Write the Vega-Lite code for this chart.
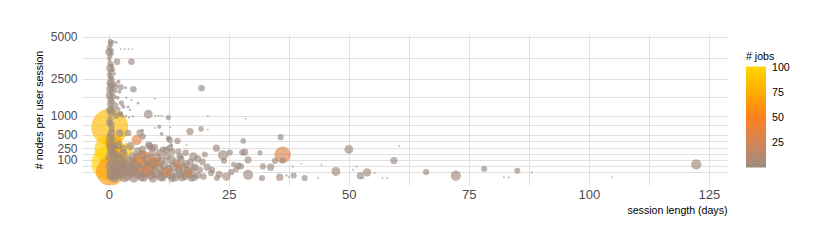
{
  "$schema": "https://vega.github.io/schema/vega-lite/v6.json",
  "width": 645,
  "height": 151,
  "autosize": "none",
  "padding": {"left": 82, "top": 34, "right": 103, "bottom": 64},
  "background": "white",
  "config": {"view": {"stroke": null}, "font": "Liberation Sans"},
  "data": {"values": [
    {"days":0.2,"nodes":680,"jobs":85,"load":78},
    {"days":0.0,"nodes":70,"jobs":100,"load":70},
    {"days":0.0,"nodes":230,"jobs":95,"load":47},
    {"days":0.3,"nodes":18,"jobs":65,"load":47},
    {"days":7.1,"nodes":60,"jobs":50,"load":41},
    {"days":1.0,"nodes":330,"jobs":72,"load":18},
    {"days":2.0,"nodes":130,"jobs":78,"load":22},
    {"days":3.7,"nodes":230,"jobs":90,"load":9},
    {"days":5.8,"nodes":394,"jobs":35,"load":6},
    {"days":36.2,"nodes":155,"jobs":30,"load":15.5},
    {"days":9.2,"nodes":72,"jobs":55,"load":6},
    {"days":4,"nodes":20,"jobs":45,"load":8},
    {"days":6,"nodes":90,"jobs":40,"load":5},
    {"days":0.3,"nodes":4700,"jobs":1,"load":1.5},
    {"days":0.8,"nodes":4650,"jobs":1,"load":0.8},
    {"days":1.5,"nodes":4620,"jobs":1,"load":0.5},
    {"days":0.2,"nodes":4550,"jobs":1,"load":1},
    {"days":0.5,"nodes":4450,"jobs":1,"load":1},
    {"days":0.1,"nodes":4300,"jobs":1,"load":1.5},
    {"days":0.4,"nodes":4100,"jobs":2,"load":2},
    {"days":0.0,"nodes":4000,"jobs":1,"load":3},
    {"days":2.5,"nodes":4180,"jobs":1,"load":0.2},
    {"days":3.3,"nodes":4180,"jobs":1,"load":0.2},
    {"days":4.1,"nodes":4180,"jobs":1,"load":0.2},
    {"days":4.9,"nodes":4180,"jobs":1,"load":0.2},
    {"days":0.6,"nodes":3900,"jobs":1,"load":1},
    {"days":0.2,"nodes":3750,"jobs":1,"load":1.5},
    {"days":1.7,"nodes":3410,"jobs":1,"load":2.5},
    {"days":4.7,"nodes":3410,"jobs":1,"load":2.5},
    {"days":0.1,"nodes":3550,"jobs":1,"load":1},
    {"days":0.3,"nodes":3300,"jobs":1,"load":2},
    {"days":0.6,"nodes":3150,"jobs":1,"load":1.5},
    {"days":0.2,"nodes":3050,"jobs":1,"load":3},
    {"days":0.9,"nodes":2950,"jobs":1,"load":1},
    {"days":0.4,"nodes":2850,"jobs":1,"load":2},
    {"days":1.2,"nodes":2750,"jobs":1,"load":0.5},
    {"days":0.1,"nodes":2700,"jobs":1,"load":1.5},
    {"days":0.5,"nodes":2600,"jobs":1,"load":2},
    {"days":0.3,"nodes":2500,"jobs":1,"load":1.5},
    {"days":0.8,"nodes":2450,"jobs":1,"load":1},
    {"days":2.0,"nodes":2350,"jobs":1,"load":1},
    {"days":0.2,"nodes":2300,"jobs":1,"load":2.5},
    {"days":1.0,"nodes":2250,"jobs":1,"load":2},
    {"days":0.4,"nodes":2200,"jobs":1,"load":3},
    {"days":1.5,"nodes":2150,"jobs":1,"load":1.5},
    {"days":2.5,"nodes":2100,"jobs":1,"load":2},
    {"days":3.5,"nodes":2080,"jobs":1,"load":0.5},
    {"days":0.6,"nodes":2050,"jobs":1,"load":2},
    {"days":5.1,"nodes":2010,"jobs":1,"load":2.5},
    {"days":0.2,"nodes":2000,"jobs":1,"load":3},
    {"days":1.3,"nodes":1950,"jobs":1,"load":1.5},
    {"days":2.2,"nodes":1900,"jobs":1,"load":1},
    {"days":0.5,"nodes":1850,"jobs":1,"load":2},
    {"days":0.1,"nodes":1750,"jobs":1,"load":3},
    {"days":0.9,"nodes":1700,"jobs":1,"load":2},
    {"days":1.8,"nodes":1650,"jobs":1,"load":1},
    {"days":3.6,"nodes":1650,"jobs":1,"load":0.3},
    {"days":4.7,"nodes":1560,"jobs":1,"load":0.3},
    {"days":9.6,"nodes":1617,"jobs":1,"load":0.2},
    {"days":0.3,"nodes":1600,"jobs":1,"load":2.5},
    {"days":0.7,"nodes":1500,"jobs":1,"load":2},
    {"days":2.6,"nodes":1450,"jobs":1,"load":1.5},
    {"days":6.1,"nodes":1440,"jobs":1,"load":0.4},
    {"days":0.2,"nodes":1420,"jobs":1,"load":2},
    {"days":1.2,"nodes":1350,"jobs":1,"load":3},
    {"days":3.0,"nodes":1314,"jobs":1,"load":1},
    {"days":4.0,"nodes":1300,"jobs":1,"load":0.5},
    {"days":0.5,"nodes":1280,"jobs":1,"load":2},
    {"days":2.0,"nodes":1230,"jobs":1,"load":1},
    {"days":4.4,"nodes":1200,"jobs":1,"load":0.3},
    {"days":0.1,"nodes":1200,"jobs":1,"load":2.5},
    {"days":1.0,"nodes":1150,"jobs":1,"load":2},
    {"days":0.4,"nodes":1100,"jobs":1,"load":3},
    {"days":2.3,"nodes":1089,"jobs":1,"load":1.5},
    {"days":2.5,"nodes":1050,"jobs":1,"load":1.5},
    {"days":1.5,"nodes":1000,"jobs":1,"load":2},
    {"days":3.0,"nodes":980,"jobs":1,"load":0.3},
    {"days":3.6,"nodes":1000,"jobs":1,"load":0.3},
    {"days":4.2,"nodes":960,"jobs":1,"load":0.3},
    {"days":5.0,"nodes":990,"jobs":1,"load":0.3},
    {"days":8.2,"nodes":1057,"jobs":1,"load":4.5},
    {"days":12.4,"nodes":951,"jobs":1,"load":1.5},
    {"days":9.6,"nodes":1010,"jobs":1,"load":0.2},
    {"days":10.3,"nodes":1010,"jobs":1,"load":0.2},
    {"days":11.0,"nodes":1010,"jobs":1,"load":0.2},
    {"days":20.6,"nodes":1003,"jobs":1,"load":0.2},
    {"days":28.5,"nodes":920,"jobs":1,"load":0.2},
    {"days":19.3,"nodes":2054,"jobs":1,"load":2.5},
    {"days":0.3,"nodes":900,"jobs":2,"load":2},
    {"days":0.1,"nodes":800,"jobs":2,"load":2.5},
    {"days":0.5,"nodes":741,"jobs":2,"load":2.7},
    {"days":0.6,"nodes":620,"jobs":2,"load":2},
    {"days":0.5,"nodes":536,"jobs":2,"load":3.3},
    {"days":2.3,"nodes":536,"jobs":2,"load":3.3},
    {"days":4.0,"nodes":540,"jobs":2,"load":2.5},
    {"days":6.5,"nodes":543,"jobs":2,"load":3},
    {"days":7.1,"nodes":461,"jobs":2,"load":2.2},
    {"days":0.2,"nodes":450,"jobs":2,"load":3},
    {"days":0.8,"nodes":400,"jobs":2,"load":2},
    {"days":0.3,"nodes":330,"jobs":3,"load":3.5},
    {"days":8.3,"nodes":302,"jobs":2,"load":3},
    {"days":8.5,"nodes":274,"jobs":2,"load":2.7},
    {"days":9.0,"nodes":250,"jobs":2,"load":2.5},
    {"days":1.2,"nodes":280,"jobs":3,"load":2.5},
    {"days":10.5,"nodes":690,"jobs":1,"load":1},
    {"days":11.0,"nodes":520,"jobs":1,"load":0.8},
    {"days":13.0,"nodes":300,"jobs":1,"load":0.8},
    {"days":7.0,"nodes":600,"jobs":1,"load":0.5},
    {"days":12.4,"nodes":428,"jobs":2,"load":1.5},
    {"days":11.3,"nodes":223,"jobs":2,"load":2.5},
    {"days":12.7,"nodes":248,"jobs":2,"load":2.5},
    {"days":10.6,"nodes":177,"jobs":3,"load":3.3},
    {"days":13.3,"nodes":198,"jobs":2,"load":2.2},
    {"days":14.8,"nodes":135,"jobs":2,"load":2.7},
    {"days":8.1,"nodes":57,"jobs":2,"load":2.2},
    {"days":0.5,"nodes":200,"jobs":3,"load":4},
    {"days":1.5,"nodes":160,"jobs":3,"load":3},
    {"days":0.2,"nodes":130,"jobs":4,"load":5},
    {"days":2.5,"nodes":100,"jobs":3,"load":4},
    {"days":0.8,"nodes":60,"jobs":4,"load":6},
    {"days":3.0,"nodes":40,"jobs":3,"load":5},
    {"days":1.5,"nodes":20,"jobs":4,"load":6},
    {"days":0.5,"nodes":5,"jobs":3,"load":6},
    {"days":1,"nodes":150,"jobs":3,"load":6},
    {"days":2,"nodes":110,"jobs":2,"load":5},
    {"days":3,"nodes":170,"jobs":4,"load":4},
    {"days":4,"nodes":90,"jobs":2,"load":6},
    {"days":5,"nodes":130,"jobs":3,"load":5},
    {"days":6,"nodes":200,"jobs":2,"load":4},
    {"days":7,"nodes":150,"jobs":5,"load":5},
    {"days":8,"nodes":110,"jobs":3,"load":6},
    {"days":9,"nodes":180,"jobs":2,"load":3},
    {"days":10,"nodes":120,"jobs":4,"load":5},
    {"days":11,"nodes":90,"jobs":2,"load":4},
    {"days":12,"nodes":140,"jobs":3,"load":4},
    {"days":13,"nodes":100,"jobs":2,"load":5},
    {"days":14,"nodes":70,"jobs":3,"load":4},
    {"days":15,"nodes":110,"jobs":2,"load":3},
    {"days":16,"nodes":60,"jobs":4,"load":4},
    {"days":17,"nodes":80,"jobs":2,"load":3},
    {"days":18,"nodes":40,"jobs":2,"load":3},
    {"days":19,"nodes":25,"jobs":1,"load":2},
    {"days":0.5,"nodes":45,"jobs":3,"load":8},
    {"days":1.5,"nodes":55,"jobs":6,"load":6},
    {"days":2.5,"nodes":35,"jobs":4,"load":7},
    {"days":3.5,"nodes":60,"jobs":3,"load":5},
    {"days":4.5,"nodes":40,"jobs":5,"load":6},
    {"days":5.5,"nodes":50,"jobs":2,"load":6},
    {"days":6.5,"nodes":30,"jobs":8,"load":5},
    {"days":7.5,"nodes":55,"jobs":4,"load":6},
    {"days":8.5,"nodes":40,"jobs":3,"load":5},
    {"days":9.5,"nodes":60,"jobs":2,"load":5},
    {"days":10.5,"nodes":35,"jobs":5,"load":6},
    {"days":11.5,"nodes":50,"jobs":3,"load":5},
    {"days":12.5,"nodes":30,"jobs":2,"load":4},
    {"days":13.5,"nodes":45,"jobs":4,"load":5},
    {"days":14.5,"nodes":25,"jobs":3,"load":4},
    {"days":15.5,"nodes":40,"jobs":2,"load":5},
    {"days":16.5,"nodes":20,"jobs":3,"load":4},
    {"days":17.5,"nodes":30,"jobs":6,"load":4},
    {"days":0.8,"nodes":12,"jobs":5,"load":8},
    {"days":1.8,"nodes":8,"jobs":3,"load":7},
    {"days":2.8,"nodes":15,"jobs":6,"load":6},
    {"days":3.8,"nodes":5,"jobs":4,"load":6},
    {"days":4.8,"nodes":18,"jobs":2,"load":7},
    {"days":5.8,"nodes":10,"jobs":7,"load":6},
    {"days":6.8,"nodes":4,"jobs":3,"load":6},
    {"days":7.8,"nodes":15,"jobs":5,"load":5},
    {"days":8.8,"nodes":6,"jobs":2,"load":5},
    {"days":9.8,"nodes":12,"jobs":4,"load":6},
    {"days":10.8,"nodes":3,"jobs":3,"load":5},
    {"days":11.8,"nodes":14,"jobs":2,"load":6},
    {"days":12.8,"nodes":7,"jobs":5,"load":5},
    {"days":13.8,"nodes":2,"jobs":3,"load":4},
    {"days":14.8,"nodes":10,"jobs":2,"load":5},
    {"days":15.8,"nodes":4,"jobs":3,"load":4},
    {"days":16.8,"nodes":8,"jobs":4,"load":4},
    {"days":17.8,"nodes":2,"jobs":2,"load":3},
    {"days":18.5,"nodes":6,"jobs":1,"load":3},
    {"days":1.2,"nodes":1,"jobs":2,"load":5},
    {"days":3.2,"nodes":2,"jobs":4,"load":6},
    {"days":5.2,"nodes":1,"jobs":3,"load":5},
    {"days":7.2,"nodes":2,"jobs":2,"load":5},
    {"days":9.2,"nodes":1,"jobs":5,"load":5},
    {"days":11.2,"nodes":2,"jobs":3,"load":4},
    {"days":13.2,"nodes":1,"jobs":2,"load":4},
    {"days":15.2,"nodes":2,"jobs":4,"load":4},
    {"days":17.2,"nodes":1,"jobs":2,"load":3},
    {"days":0.5,"nodes":260,"jobs":2,"load":5},
    {"days":2.0,"nodes":300,"jobs":3,"load":4},
    {"days":3.0,"nodes":240,"jobs":2,"load":3},
    {"days":4.5,"nodes":280,"jobs":4,"load":4},
    {"days":7.0,"nodes":230,"jobs":2,"load":3},
    {"days":9.5,"nodes":260,"jobs":3,"load":3},
    {"days":12.0,"nodes":220,"jobs":2,"load":3},
    {"days":14.5,"nodes":200,"jobs":1,"load":2},
    {"days":16.0,"nodes":180,"jobs":2,"load":2.5},
    {"days":8,"nodes":25,"jobs":25,"load":6},
    {"days":10,"nodes":80,"jobs":20,"load":5},
    {"days":12,"nodes":15,"jobs":30,"load":4},
    {"days":14.5,"nodes":55,"jobs":22,"load":4},
    {"days":16.5,"nodes":12,"jobs":18,"load":4},
    {"days":35.8,"nodes":448,"jobs":2,"load":2.2},
    {"days":34.6,"nodes":90,"jobs":3,"load":2.2},
    {"days":36.2,"nodes":93,"jobs":2,"load":2.2},
    {"days":33.7,"nodes":40,"jobs":2,"load":3},
    {"days":32.1,"nodes":45,"jobs":2,"load":2.2},
    {"days":35.6,"nodes":2,"jobs":3,"load":3},
    {"days":38.5,"nodes":5,"jobs":2,"load":2.2},
    {"days":40.8,"nodes":1,"jobs":2,"load":2.2},
    {"days":47.3,"nodes":18,"jobs":3,"load":4.5},
    {"days":50,"nodes":228,"jobs":2,"load":4.5},
    {"days":52.4,"nodes":4.5,"jobs":2,"load":3},
    {"days":53.8,"nodes":14,"jobs":3,"load":3.9},
    {"days":59.4,"nodes":93,"jobs":2,"load":3},
    {"days":60.5,"nodes":285,"jobs":1,"load":0.2},
    {"days":66.1,"nodes":15.5,"jobs":2,"load":2.2},
    {"days":72.3,"nodes":4.5,"jobs":3,"load":6},
    {"days":78.2,"nodes":31,"jobs":2,"load":2.2},
    {"days":85.1,"nodes":21,"jobs":2,"load":2.2},
    {"days":82.3,"nodes":2,"jobs":1,"load":0.2},
    {"days":83.3,"nodes":1.5,"jobs":1,"load":0.2},
    {"days":88.1,"nodes":14,"jobs":1,"load":0.2},
    {"days":104.9,"nodes":2,"jobs":1,"load":0.2},
    {"days":122.4,"nodes":59,"jobs":3,"load":6},
    {"days":44.3,"nodes":57,"jobs":1,"load":0.2},
    {"days":43.6,"nodes":1,"jobs":1,"load":0.2},
    {"days":52.5,"nodes":1,"jobs":1,"load":0.2},
    {"days":53.0,"nodes":1,"jobs":1,"load":0.2},
    {"days":50.9,"nodes":26,"jobs":1,"load":0.2},
    {"days":51.6,"nodes":45,"jobs":1,"load":0.2},
    {"days":57,"nodes":1,"jobs":1,"load":0.2},
    {"days":58,"nodes":1,"jobs":1,"load":0.2},
    {"days":55.4,"nodes":12,"jobs":1,"load":0.2},
    {"days":38.3,"nodes":45,"jobs":1,"load":0.2},
    {"days":37,"nodes":5,"jobs":1,"load":0.3},
    {"days":37.5,"nodes":2,"jobs":1,"load":0.2},
    {"days":40.1,"nodes":64,"jobs":1,"load":0.2},
    {"days":29,"nodes":100,"jobs":2,"load":3},
    {"days":29,"nodes":7,"jobs":2,"load":6},
    {"days":31.9,"nodes":1,"jobs":2,"load":2.2},
    {"days":27,"nodes":50,"jobs":2,"load":2.2},
    {"days":31.5,"nodes":180,"jobs":1,"load":1.5},
    {"days":27.8,"nodes":185,"jobs":2,"load":2.2},
    {"days":23.8,"nodes":150,"jobs":3,"load":6},
    {"days":17.6,"nodes":135,"jobs":3,"load":4},
    {"days":24.5,"nodes":3,"jobs":3,"load":3.9},
    {"days":21.3,"nodes":12,"jobs":2,"load":2.2},
    {"days":22.5,"nodes":1,"jobs":2,"load":2},
    {"days":19.7,"nodes":3,"jobs":2,"load":2.5},
    {"days":22.4,"nodes":248,"jobs":2,"load":3},
    {"days":25.2,"nodes":185,"jobs":2,"load":2.2},
    {"days":28,"nodes":375,"jobs":2,"load":1.8},
    {"days":28.3,"nodes":190,"jobs":2,"load":3},
    {"days":27.5,"nodes":45,"jobs":2,"load":2.2},
    {"days":12.7,"nodes":393,"jobs":2,"load":2.2},
    {"days":14.3,"nodes":373,"jobs":2,"load":2.2},
    {"days":16.9,"nodes":573,"jobs":2,"load":3},
    {"days":19.2,"nodes":638,"jobs":2,"load":1.8},
    {"days":16.2,"nodes":302,"jobs":1,"load":0.2},
    {"days":9.6,"nodes":663,"jobs":1,"load":0.2},
    {"days":12.8,"nodes":680,"jobs":1,"load":0.2},
    {"days":20.6,"nodes":614,"jobs":1,"load":0.2},
    {"days":20.5,"nodes":40,"jobs":2,"load":3},
    {"days":21.5,"nodes":25,"jobs":2,"load":2.2},
    {"days":23,"nodes":8,"jobs":2,"load":3},
    {"days":25.5,"nodes":15,"jobs":2,"load":2.2},
    {"days":26,"nodes":60,"jobs":1,"load":1.5},
    {"days":24,"nodes":90,"jobs":2,"load":2},
    {"days":19.5,"nodes":80,"jobs":2,"load":2.5},
    {"days":18.5,"nodes":110,"jobs":3,"load":3},
    {"days":20,"nodes":160,"jobs":2,"load":2},
    {"days":26.5,"nodes":28,"jobs":2,"load":2}
  ]},
  "mark": {"type": "circle", "fillOpacity": 0.65, "clip": true},
  "encoding": {
    "x": {
      "field": "days", "type": "quantitative",
      "scale": {"domain": [-5.6, 128.8], "nice": false, "zero": false},
      "axis": {
        "values": [0, 12.5, 25, 37.5, 50, 62.5, 75, 87.5, 100, 112.5, 125],
        "labelExpr": "datum.value % 25 === 0 ? datum.label : ''",
        "title": "session length (days)",
        "titleAnchor": "end",
        "domain": false, "ticks": false,
        "gridColor": "#e0e0e0",
        "labelFontSize": 13, "labelColor": "#4d4d4d", "labelPadding": 3,
        "labelOverlap": false,
        "titleFontSize": 10.6, "titleFontWeight": "normal", "titleColor": "#000000",
        "titlePadding": 4
      }
    },
    "y": {
      "field": "nodes", "type": "quantitative",
      "scale": {"type": "sqrt", "domain": [-6, 5200], "nice": false, "zero": false},
      "axis": {
        "values": [17.6, 50.4, 100, 166.6, 250, 364.3, 500, 728.5, 1000, 1665.5, 2500, 3643, 5000],
        "labelExpr": "indexof([100,250,500,1000,2500,5000], datum.value) >= 0 ? format(datum.value, 'd') : ''",
        "title": "# nodes per user session",
        "domain": false, "ticks": false,
        "gridColor": "#e0e0e0",
        "labelFontSize": 12, "labelColor": "#4d4d4d", "labelPadding": 5,
        "labelOverlap": false,
        "titleFontSize": 10.6, "titleFontWeight": "normal", "titleColor": "#000000",
        "titlePadding": 6
      }
    },
    "size": {
      "field": "load", "type": "quantitative",
      "scale": {"domain": [0, 100], "range": [0, 1750]},
      "legend": null
    },
    "color": {
      "field": "jobs", "type": "quantitative", "title": "# jobs",
      "scale": {"domain": [1, 50, 101], "range": ["#9b8a80", "#ff7f1e", "#ffd700"]},
      "legend": {
        "orient": "none", "legendX": 664, "legendY": 18,
        "direction": "vertical",
        "gradientLength": 101, "gradientThickness": 20,
        "gradientStrokeWidth": 0,
        "values": [25, 50, 75, 100],
        "titleFontSize": 10.6, "titleFontWeight": "normal", "titleColor": "#000000",
        "titlePadding": 4,
        "labelFontSize": 10.6, "labelColor": "#000000", "labelOffset": 6
      }
    }
  }
}
